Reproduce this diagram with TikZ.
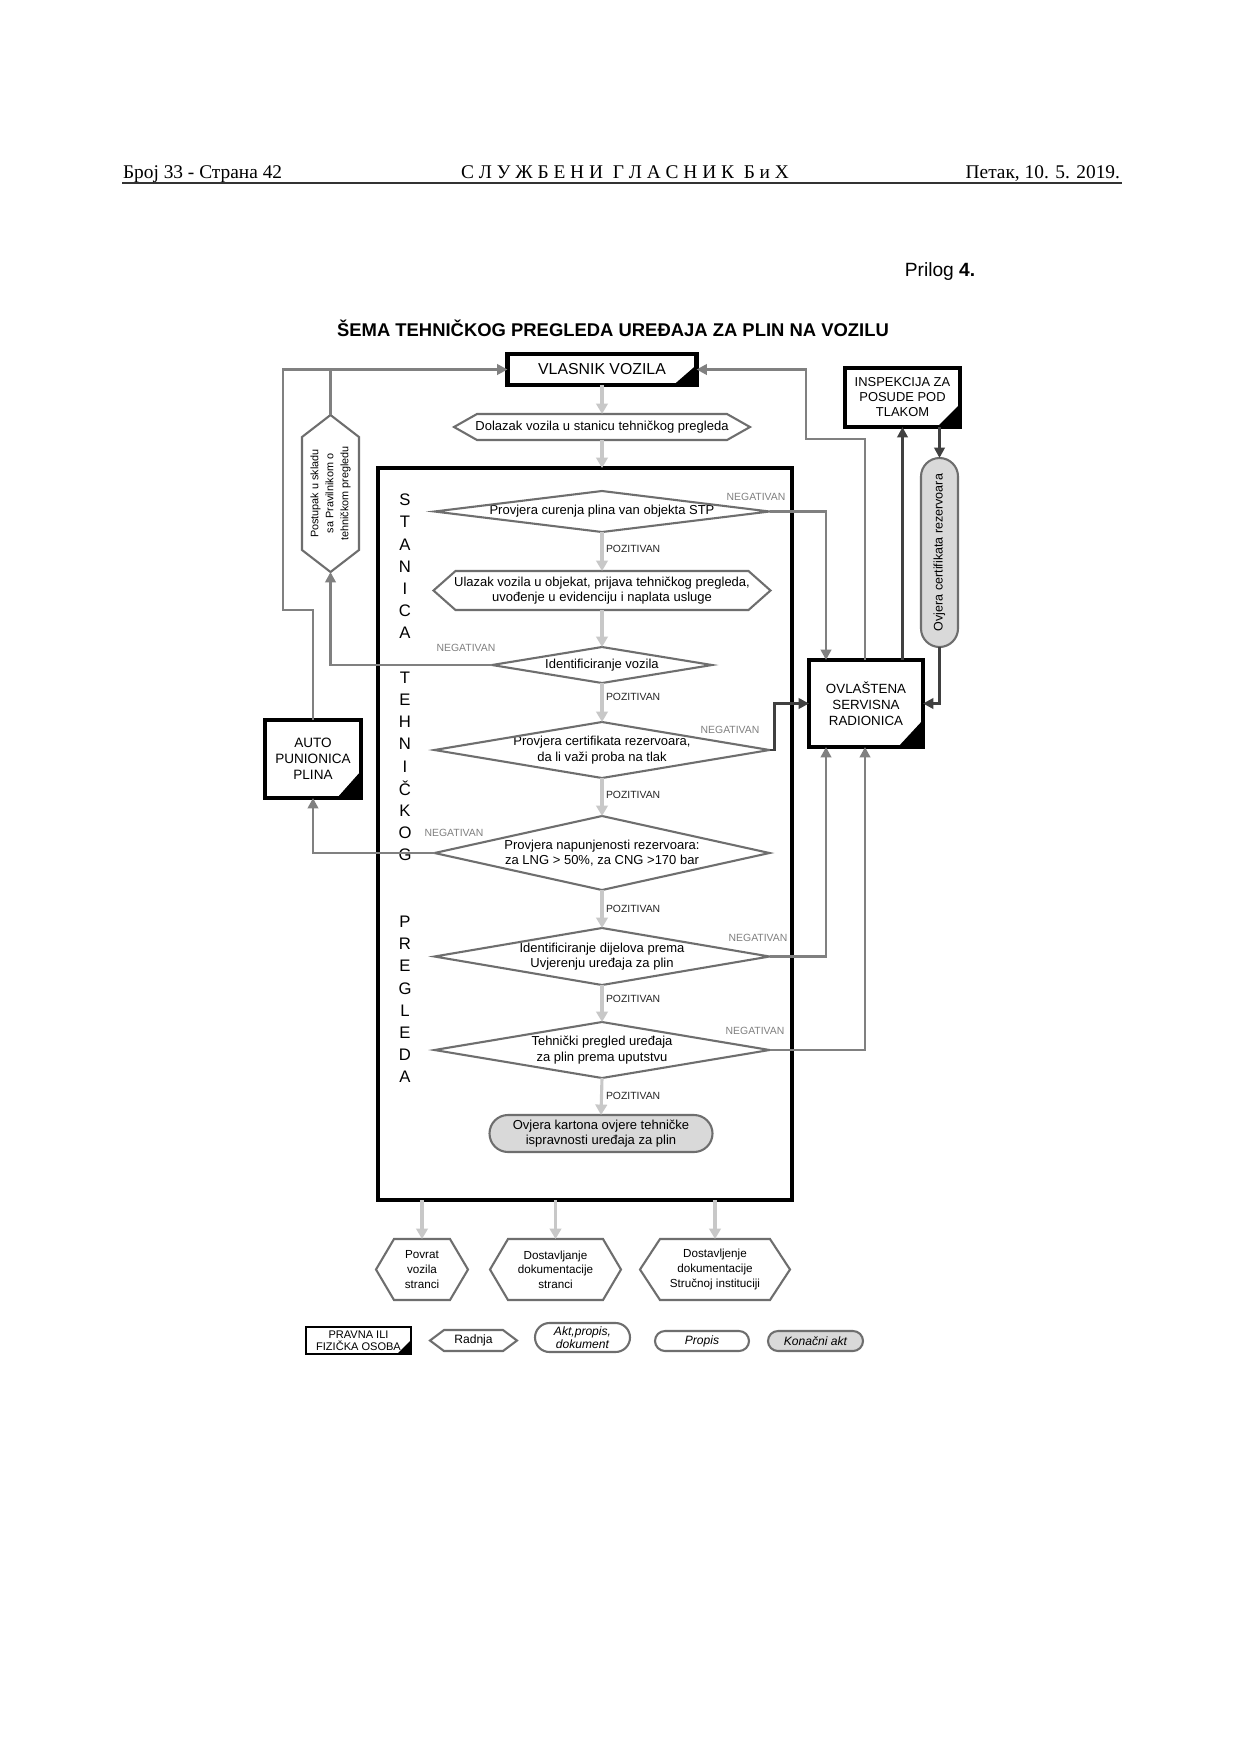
\documentclass[tikz,border=0pt]{standalone}
\usepackage{fontspec}
\usepackage{graphicx}
\setmainfont{Liberation Sans}
\newfontfamily\hdrserif{Liberation Serif}
\usetikzlibrary{arrows.meta,calc,shapes.misc}
\def\pxu{0.4797pt}
\definecolor{flowgray}{HTML}{C8C8C8}
\definecolor{midgray}{HTML}{808080}
\definecolor{darkgraytwo}{HTML}{404040}
\definecolor{outlinegray}{HTML}{6E6E6E}
\definecolor{pillgray}{HTML}{D9D9D9}
\newcommand{\fsz}[2]{\fontsize{#1pt}{#2pt}\selectfont}
\newcommand{\hexshape}[2]{\draw[shapeline] ($(#1.north west)+(#2,0)$) -- ($(#1.north east)+(-#2,0)$) -- (#1.east) -- ($(#1.south east)+(-#2,0)$) -- ($(#1.south west)+(#2,0)$) -- (#1.west) -- cycle;}
\newcommand{\diashape}[1]{\draw[shapeline] (#1.west) -- (#1.north) -- (#1.east) -- (#1.south) -- cycle;}
\newcommand{\cornertri}[3]{\fill ($(#1.south east)+(-#2,0)$) -- (#1.south east) -- ($(#1.south east)+(0,-#3)$) -- cycle;}
\begin{document}
\begin{tikzpicture}[x=0.4797pt,y=-0.4797pt,
  sz/.style 2 args={minimum width=#1*\pxu, minimum height=#2*\pxu},
  txtnode/.style={inner sep=0pt, outer sep=0pt, align=center},
  shapeline/.style={draw=outlinegray, line width=1pt, line join=miter},
  entity/.style={txtnode, rectangle, draw=black, line width=2pt, fill=white},
  body/.style={font=\fsz{6.24}{7.4}},
  flow/.style={draw=flowgray, line width=1.5pt, -{Triangle[length=5pt,width=5.5pt]}},
  conn/.style={draw=midgray, line width=1.4pt, -{Triangle[length=5pt,width=5pt]}},
  darkconn/.style={draw=darkgraytwo, line width=1.4pt, -{Triangle[length=5pt,width=5pt]}},
  poz/.style={txtnode, anchor=west, font=\fsz{5}{6}, text=black!85},
  neg/.style={txtnode, font=\fsz{5}{6}, text=midgray},
  pill/.style={txtnode, rounded rectangle, draw=outlinegray, line width=1pt},
]
\fill[white] (0,0) rectangle (1241,1755);
\useasboundingbox (0,0) rectangle (1241,1755);

% header
\node[txtnode, anchor=base west, font=\hdrserif\fsz{9.3}{11}] (hleft) at (123,178) {Број 33 - Страна 42};
\node[txtnode, anchor=base, font=\hdrserif\fsz{9.3}{11}] (hmid) at (625,178) {С Л У Ж Б Е Н И\ \ Г Л А С Н И К\ \ Б и Х};
\node[txtnode, anchor=base east, font=\hdrserif\fsz{9.3}{11}] (hright) at (1120,178) {Петак, 10. 5. 2019.};
\coordinate (ruleL) at (122,183);
\coordinate (ruleR) at (1122,183);
\draw[line width=0.9pt, black!80] (ruleL) -- (ruleR);

\node[txtnode, font=\fsz{9.2}{11}] (prilog) at (940,272) {Prilog \textbf{4.}};
\node[txtnode, font=\bfseries\fsz{8.84}{10}] (title) at (613,328) {ŠEMA TEHNIČKOG PREGLEDA UREĐAJA ZA PLIN NA VOZILU};

% main column
\node[entity, sz={189}{31}, font=\fsz{7.6}{9}] (vlasnik) at (602,369.5) {VLASNIK VOZILA};
\cornertri{vlasnik}{23}{20}
\node[txtnode, sz={296}{26}, body] (dolazak) at (602,427) {Dolazak vozila u stanicu tehničkog pregleda};
\hexshape{dolazak}{23}
\node[txtnode, draw=black, line width=2pt, sz={414}{732}] (big) at (585,834) {};

\foreach \i/\l in {0/S,1/T,2/A,3/N,4/I,5/C,6/A,8/T,9/E,10/H,11/N,12/I,13/Č,14/K,15/O,16/G,19/P,20/R,21/E,22/G,23/L,24/E,25/D,26/A}
  \node[txtnode, font=\fsz{8}{9}] (v\i) at (405,{500+22.2*\i}) {\l};

\node[txtnode, sz={335}{41}, body] (d1) at (602,511.5) {Provjera curenja plina van objekta STP};
\diashape{d1}
\node[txtnode, sz={337}{39}, body] (h2) at (602,590.5) {Ulazak vozila u objekat, prijava tehničkog pregleda,\\uvođenje u evidenciju i naplata usluge};
\hexshape{h2}{22}
\node[txtnode, sz={220}{36}, body] (d3) at (602,665) {Identificiranje vozila};
\diashape{d3}
\node[txtnode, sz={335}{56}, body] (d4) at (602,750) {Provjera certifikata rezervoara,\\da li važi proba na tlak};
\diashape{d4}
\node[txtnode, sz={335}{74}, body] (d5) at (602,853) {Provjera napunjenosti rezervoara:\\za LNG > 50\%, za CNG >170 bar};
\diashape{d5}
\node[txtnode, sz={335}{57}, body] (d6) at (602,956.5) {Identificiranje dijelova prema\\Uvjerenju uređaja za plin};
\diashape{d6}
\node[txtnode, sz={335}{56}, body] (d7) at (602,1050) {Tehnički pregled uređaja\\za plin prema uputstvu};
\diashape{d7}
\node[pill, fill=pillgray, sz={223}{37}, body] (final) at (601,1133.5) {Ovjera kartona ovjere tehničke\\ispravnosti uređaja za plin};

\node[poz] (p1) at (606,549) {POZITIVAN};
\node[poz] (p2) at (606,697) {POZITIVAN};
\node[poz] (p3) at (606,795) {POZITIVAN};
\node[poz] (p4) at (606,909) {POZITIVAN};
\node[poz] (p5) at (606,999) {POZITIVAN};
\node[poz] (p6) at (606,1096) {POZITIVAN};

\node[neg] (n1) at (756,497) {NEGATIVAN};
\node[neg] (n3) at (466,648) {NEGATIVAN};
\node[neg] (n4) at (730,730) {NEGATIVAN};
\node[neg] (n5) at (454,833) {NEGATIVAN};
\node[neg] (n6) at (758,938) {NEGATIVAN};
\node[neg] (n7) at (755,1031) {NEGATIVAN};

% side nodes
\node[txtnode, sz={57}{157}] (post) at (330.5,493.5) {};
\draw[shapeline] (post.north) -- ($(post.north east)+(0,22)$) -- ($(post.south east)+(0,-22)$) -- (post.south) -- ($(post.south west)+(0,-22)$) -- ($(post.north west)+(0,22)$) -- cycle;
\node[txtnode, rotate=90, font=\fsz{5.2}{7.2}] (posttxt) at (post) {Postupak u skladu\\sa Pravilnikom o\\tehničkom pregledu};

\node[entity, sz={96}{78}, font=\fsz{6.5}{7.6}] (autop) at (313,759) {AUTO\\PUNIONICA\\PLINA};
\cornertri{autop}{24}{27}
\node[entity, sz={114}{87}, font=\fsz{6.4}{7.7}] (ovl) at (866,703.5) {OVLAŠTENA\\SERVISNA\\RADIONICA};
\cornertri{ovl}{25}{27}
\node[entity, sz={115}{59}, font=\fsz{6.2}{7.2}] (insp) at (902.5,397.5) {INSPEKCIJA ZA\\POSUDE POD\\TLAKOM};
\cornertri{insp}{23}{23}
\node[pill, rotate=90, fill=pillgray, sz={189}{37}, font=\fsz{6}{7}] (ovjcert) at (939.5,552.5) {Ovjera certifikata rezervoara};

% bottom outputs
\node[txtnode, sz={92}{61}, font=\fsz{5.6}{7}] (povrat) at (422,1269.5) {Povrat\\vozila\\stranci};
\hexshape{povrat}{18}
\node[txtnode, sz={131}{61}, font=\fsz{5.6}{7}] (dost1) at (555.5,1269.5) {Dostavljanje\\dokumentacije\\stranci};
\hexshape{dost1}{18}
\node[txtnode, sz={150}{61}, font=\fsz{5.6}{7}] (dost2) at (715,1269.5) {Dostavljenje\\dokumentacije\\Stručnoj instituciji};
\hexshape{dost2}{20}

% legend
\node[txtnode, draw=black, line width=1.2pt, sz={105}{27}, font=\fsz{5.3}{5.8}] (leg1) at (358.5,1340.5) {PRAVNA ILI\\FIZIČKA OSOBA};
\cornertri{leg1}{14}{14}
\node[txtnode, sz={87}{21}, font=\fsz{5.8}{7}] (leg2) at (473.5,1340.5) {Radnja};
\hexshape{leg2}{14}
\node[pill, sz={95}{29}, font=\itshape\fsz{5.8}{6.2}] (leg3) at (582.5,1337.5) {Akt,propis,\\dokument};
\node[pill, sz={94}{20}, font=\itshape\fsz{5.8}{7}] (leg4) at (702,1341) {Propis};
\node[pill, fill=pillgray, sz={95}{20}, font=\itshape\fsz{5.8}{7}] (leg5) at (815.5,1341) {Konačni akt};

% main flow arrows
\draw[flow] (vlasnik.south) -- (dolazak.north);
\draw[flow] (dolazak.south) -- (dolazak.south |- big.north);
\draw[flow] (d1.south) -- (h2.north);
\draw[flow] (h2.south) -- (d3.north);
\draw[flow] (d3.south) -- (d4.north);
\draw[flow] (d4.south) -- (d5.north);
\draw[flow] (d5.south) -- (d6.north);
\draw[flow] (d6.south) -- (d7.north);
\draw[flow] (d7.south) -- (final.north);
\draw[flow] (big.south -| povrat.north) -- (povrat.north);
\draw[flow] (big.south -| dost1.north) -- (dost1.north);
\draw[flow] (big.south -| dost2.north) -- (dost2.north);

% negative branches
\draw[conn] (d1.east) -| ($(ovl.north west)+(17,0)$);
\draw[conn] (d3.west) -| (post.south);
\draw[darkconn] (d4.east) -- ++(5,0) |- (ovl.west);
\draw[conn] (d5.west) -| (autop.south);
\draw[conn] (d6.east) -| ($(ovl.south west)+(17,0)$);
\draw[conn] (d7.east) -| ($(ovl.south west)+(56,0)$);

% returns to owner
\coordinate (rA) at (806,439);
\draw[conn] ($(ovl.north west)+(56,0)$) |- (rA) |- (vlasnik.east);
\coordinate (lA) at (283,610);
\draw[conn] (autop.north) |- (lA) |- (vlasnik.west);
\draw[draw=midgray, line width=1.4pt] (post.north) -- (post.north |- vlasnik.west);

% inspection loop
\draw[darkconn] (insp.south |- ovl.north) -- (insp.south);
\draw[darkconn] (insp.south -| ovjcert.center) -- (ovjcert.east);
\draw[darkconn] (ovjcert.west) |- (ovl.east);
\end{tikzpicture}
\end{document}
